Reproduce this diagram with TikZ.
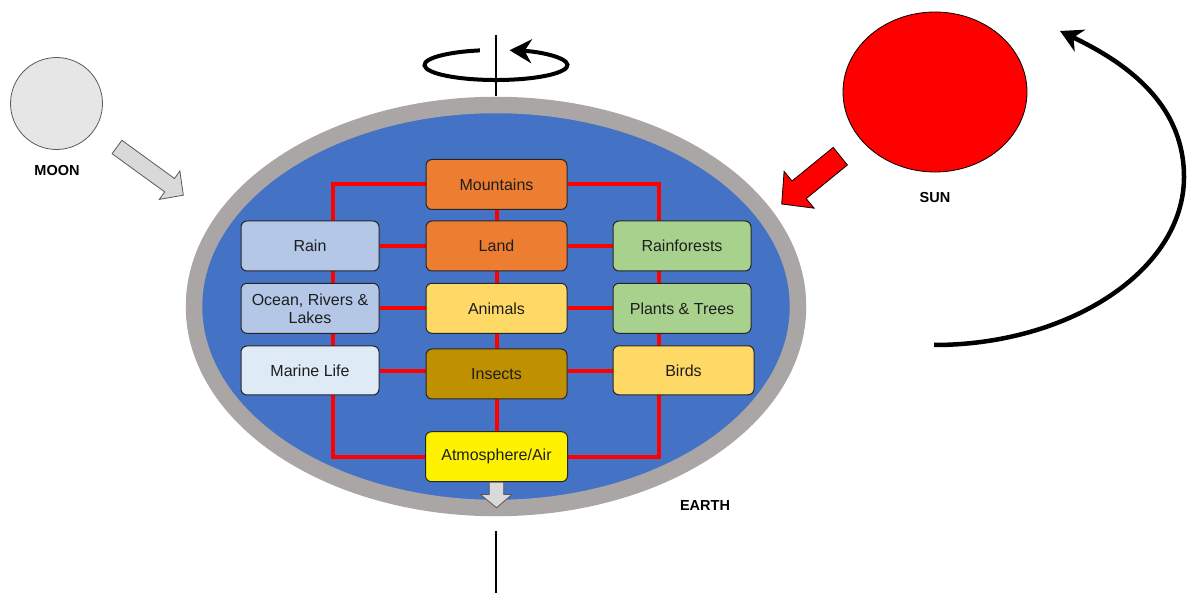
\documentclass[tikz,border=0pt]{standalone}
\usepackage{fontspec}
\setmainfont{Liberation Sans}
\usetikzlibrary{arrows.meta,shapes.geometric,calc}
\pgfdeclarelayer{back}
\pgfdeclarelayer{links}
\pgfsetlayers{back,links,main}

\definecolor{earthblue}{HTML}{4472C4}
\definecolor{ringgray}{HTML}{AAA6A6}
\definecolor{orangebox}{HTML}{ED7D31}
\definecolor{waterbox}{HTML}{B4C7E7}
\definecolor{marinebox}{HTML}{DEEBF7}
\definecolor{goldbox}{HTML}{FFD966}
\definecolor{insectbox}{HTML}{BF9000}
\definecolor{greenbox}{HTML}{A9D18E}
\definecolor{linkred}{HTML}{FF0000}
\definecolor{moongray}{HTML}{E6E6E6}
\definecolor{arrowgray}{HTML}{D9D9D9}
\definecolor{edgegray}{HTML}{595959}
\definecolor{textdark}{HTML}{1E1E1E}

\tikzset{
  item/.style={draw=black!85, line width=1pt, rounded corners=6pt,
    minimum width=141pt, minimum height=50pt, inner sep=0pt, align=center,
    text=textdark, font=\fontsize{16}{18}\selectfont},
  sidebox/.style={item, minimum width=138pt},
  link/.style={draw=linkred, line width=4pt},
  tag/.style={font=\bfseries\fontsize{14.5}{17}\selectfont, text=black},
  spin/.style={-{Stealth[length=22pt,width=24pt,inset=7pt]}, line width=4.5pt},
  blockarrow/.style={line width=0.8pt, line join=miter},
  axis/.style={line width=2pt, black},
}

\begin{document}
\begin{tikzpicture}[x=1pt,y=-1pt]
\useasboundingbox (0,0) rectangle (1194,593);

% the Earth: blue disc with a grey rim
\begin{pgfonlayer}{back}
  \fill[earthblue] (496,306.5) ellipse[x radius=302, y radius=201.5];
  \draw[ringgray, line width=16.5pt] (496,306.5) ellipse[x radius=302, y radius=201.5];
\end{pgfonlayer}

% boxes of the central column
\node[item, fill=orangebox] (mountains) at (496.5,184.5) {Mountains};
\node[item, fill=orangebox] (land) at (496.5,246) {Land};
\node[item, fill=goldbox] (animals) at (496.5,308.3) {Animals};
\node[item, fill=insectbox] (insects) at (496.5,374) {Insects};
\node[item, fill=yellow, minimum width=142pt] (atmo) at (496.5,456.7) {Atmosphere/Air};

% left column
\node[sidebox, fill=waterbox] (rain) at (310,246) {Rain};
\node[sidebox, fill=waterbox] (ocean) at (310,308.3) {Ocean, Rivers \&\\Lakes};
\node[sidebox, fill=marinebox, minimum height=49pt] (marine) at (310,370.5) {Marine Life};

% right column
\node[sidebox, fill=greenbox] (rainforests) at (682,246) {Rainforests};
\node[sidebox, fill=greenbox] (plants) at (682,308.3) {Plants \& Trees};
\node[item, fill=goldbox, minimum height=49pt] (birds) at (683.5,370.3) {Birds};

% red links between the boxes
\coordinate (ltop) at (333.3,184.5);
\coordinate (rtop) at (658.7,184.5);
\begin{pgfonlayer}{links}
  \draw[link] (mountains.west) -- (ltop) |- (atmo.west);
  \draw[link] (mountains.east) -- (rtop) |- (atmo.east);
  \draw[link] (mountains) -- (atmo);
  \draw[link] (rain) -- (land) -- (rainforests);
  \draw[link] (ocean) -- (animals) -- (plants);
  \draw[link] ([yshift=-1pt]marine.east) -- ([yshift=-1pt]marine.east -| insects.west);
  \draw[link] ([yshift=-1pt]birds.west) -- ([yshift=-1pt]birds.west -| insects.east);
\end{pgfonlayer}

% small arrow below the atmosphere box
\draw[blockarrow, draw=edgegray, fill=arrowgray, shift={(atmo.south)}]
  (-7.2,0) -- (-7.2,12.3) -- (-16,12.3) -- (0,25.6) -- (15.5,12.3) -- (7.2,12.3) -- (7.2,0) -- cycle;

% rotation axis and spin arrow
\coordinate (axtop) at (496,35);
\coordinate (axtopend) at (496,96);
\coordinate (axbot) at (496,531);
\coordinate (axbotend) at (496,593);
\draw[axis] (axtop) -- (axtopend);
\draw[axis] (axbot) -- (axbotend);
\draw[spin, line width=4pt] (479.9,50.4) arc[start angle=257, end angle=-79, x radius=71.5, y radius=15];

% the Moon
\node[circle, draw=edgegray, line width=0.8pt, fill=moongray, minimum size=92pt, inner sep=0pt] (moon) at (56.5,103.5) {};
\node[tag] (moonlabel) at (57,171) {MOON};
\draw[blockarrow, draw=edgegray, fill=arrowgray]
  (121.9,140.3) -- (174.5,178.5) -- (179.9,171.0) -- (183.3,195.2) -- (159.3,199.4) -- (164.7,191.9) -- (112.1,153.7) -- cycle;

% the Sun
\node[ellipse, draw=black, line width=0.8pt, fill=red, minimum width=184pt, minimum height=160pt, inner sep=0pt] (sun) at (935,92) {};
\node[tag] (sunlabel) at (935,198) {SUN};
\draw[blockarrow, draw=black, fill=red]
  (833.2,147.4) -- (792.0,181.0) -- (784.1,171.4) -- (781.7,204.0) -- (814.1,208.2) -- (806.2,198.6) -- (847.4,165.0) -- cycle;

% orbit arrow
\coordinate (orbitstart) at (934,345);
\coordinate (orbitmid) at (1184,177);
\coordinate (orbitend) at (1060,31);
\draw[spin] (orbitstart) .. controls (1070,345) and (1184,270) .. (orbitmid)
  .. controls (1184,100) and (1120,60) .. (orbitend);

\node[tag] (earthlabel) at (705,506) {EARTH};
\end{tikzpicture}
\end{document}
